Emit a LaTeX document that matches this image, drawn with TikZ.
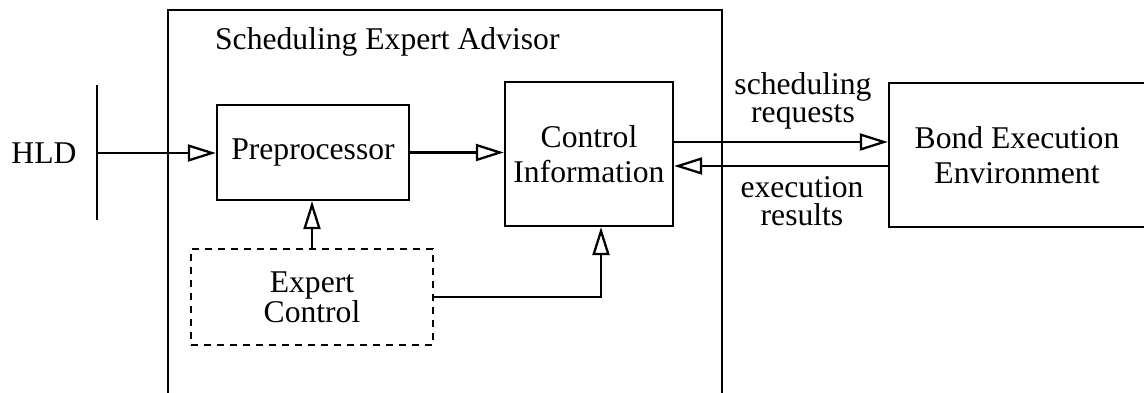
\documentclass[tikz,border=0pt]{standalone}
\usepackage{fontspec}
\setmainfont{Liberation Serif}
\usetikzlibrary{arrows.meta, positioning, calc}

\begin{document}
\begin{tikzpicture}[line width=1.3pt]
    \tikzstyle{block} = [draw, align=center, inner sep=0pt, font=\fontsize{18}{20}\selectfont]
    \tikzstyle{lbl}   = [align=center, inner sep=0pt, font=\fontsize{18}{16}\selectfont]
    \tikzstyle{flow}  = [-{Triangle[open, length=0.56cm, width=0.34cm]}]

    \useasboundingbox (0,0) rectangle (22.88,7.84);

    % Advisor frame .........................
    \node[draw, minimum width=11.08cm, minimum height=7.84cm, inner sep=0pt] (sea) at (8.90,3.72) {};
    \node[lbl, anchor=west] (title) at (4.28,7.00) {Scheduling Expert Advisor};

    \node[block, minimum width=3.84cm, minimum height=1.9cm] (pre) at (6.26,4.79) {Preprocessor};
    \node[block, minimum width=3.36cm, minimum height=2.88cm] (ci) at (11.78,4.76) {Control\\Information};
    \node[block, dash pattern=on 0.14cm off 0.12cm, font=\fontsize{18}{17}\selectfont,
          minimum width=4.84cm, minimum height=1.92cm] (expert) at (6.24,1.90) {Expert\\Control};

    % Environment .........................
    \node[block, minimum width=5.12cm, minimum height=2.88cm] (bee) at (20.34,4.74) {Bond Execution\\Environment};

    % HLD input .........................
    \node[lbl] (hld) at (0.88,4.78) {HLD};
    \coordinate (bartop) at (1.94,6.14);
    \coordinate (barbot) at (1.94,3.44);
    \coordinate (hldin) at (1.94,4.78);
    \draw (bartop) -- (barbot);

    % Flows .........................
    \coordinate (ciin) at ([xshift=0.24cm]ci.south);
    \coordinate (reqout) at ([yshift=0.24cm]ci.east);
    \coordinate (resin) at ([yshift=-0.24cm]ci.east);

    \draw[flow] (hldin) -- (hldin -| pre.west);
    \draw[flow] (pre.east) -- (pre.east -| ci.west);
    \draw[flow] (expert.north) -- (expert.north |- pre.south);
    \draw[flow] (expert.east) -| (ciin);
    \draw[flow] (reqout) -- (reqout -| bee.west);
    \draw[flow] (resin -| bee.west) -- (resin);

    \node[lbl] (req) at (16.06,5.82) {scheduling\\requests};
    \node[lbl] (res) at (16.04,3.82) {execution\\results};
\end{tikzpicture}
\end{document}
